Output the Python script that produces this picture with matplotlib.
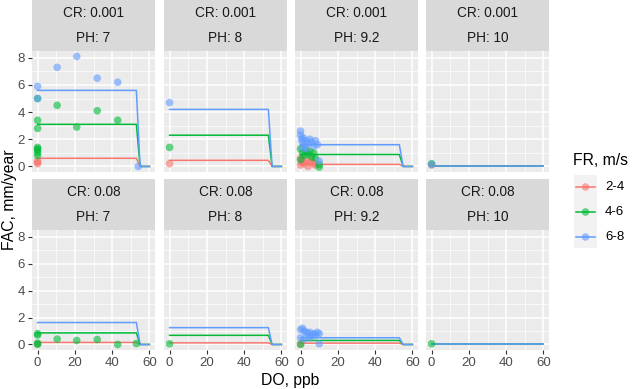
import numpy as np
import matplotlib.pyplot as plt
from matplotlib.lines import Line2D
from matplotlib.patches import Rectangle

plt.rcParams['font.family'] = ['Liberation Sans', 'DejaVu Sans']

W, H = 634, 389

cr_levels = ['0.001', '0.08']
ph_levels = ['7', '8', '9.2', '10']
fr_levels = ['2-4', '4-6', '6-8']
fr_colors = ['#F8766D', '#00BA38', '#619CFF']

# model lines: DO breakpoints and FAC level per (CR, PH) panel, one per FR group
line_do = [0, 53, 55, 60]
line_fac = {
    ('0.001', '7'): [0.6, 3.1, 5.6],
    ('0.001', '8'): [0.45, 2.3, 4.2],
    ('0.001', '9.2'): [0.15, 0.88, 1.6],
    ('0.001', '10'): [0.0, 0.0, 0.0],
    ('0.08', '7'): [0.15, 0.86, 1.63],
    ('0.08', '8'): [0.12, 0.68, 1.25],
    ('0.08', '9.2'): [0.1, 0.3, 0.5],
    ('0.08', '10'): [0.0, 0.0, 0.0],
}

# measured points: (DO, FAC) per panel and FR group
pts = {
    ('0.001', '7'): {
        '2-4': [(0, 0.4), (0, 0.3), (0, 0.2)],
        '4-6': [(0, 5.0), (0, 3.4), (0, 2.8), (0, 1.4), (0, 1.3), (0, 1.2), (0, 1.0), (0, 0.8),
                (10.5, 4.5), (21, 2.9), (32, 4.1), (43, 3.4)],
        '6-8': [(0, 5.9), (0, 5.0), (10.5, 7.3), (21, 8.1), (32, 6.5), (43, 6.2), (54, 0.0)],
    },
    ('0.001', '8'): {
        '2-4': [(0, 0.2)],
        '4-6': [(0, 1.4)],
        '6-8': [(0, 4.7)],
    },
    ('0.001', '9.2'): {
        '2-4': [(0, 0.1), (0.5, 0.3), (1, 0.5), (2, 0.2), (3, 0.4), (4, 0.0), (5, 0.3),
                (6, 0.5), (7, 0.2), (8, 0.1), (0, 0.6)],
        '4-6': [(0, 1.3), (1, 1.0), (2, 0.8), (3, 1.2), (4, 0.9), (5, 1.1), (6, 0.7),
                (7, 1.0), (8, 0.6), (10, 0.15), (10, -0.05), (0, 0.5)],
        '6-8': [(0, 2.6), (0, 2.3), (0.5, 2.0), (1, 1.8), (1.5, 2.1), (2, 1.6), (3, 1.9),
                (4, 1.7), (5, 2.0), (6, 1.8), (7, 1.5), (8, 1.9), (9, 1.6), (10, 0.4),
                (1, 1.4), (3, 1.3)],
    },
    ('0.001', '10'): {
        '2-4': [(0, 0.1)],
        '4-6': [(0, 0.2)],
        '6-8': [(0, 0.15)],
    },
    ('0.08', '7'): {
        '2-4': [(0, 0.05)],
        '4-6': [(0, 0.8), (0, 0.7), (0, 0.1), (0, 0.0), (10.5, 0.4), (21, 0.3),
                (32, 0.37), (43, 0.0), (53, 0.07)],
        '6-8': [],
    },
    ('0.08', '8'): {
        '2-4': [],
        '4-6': [(0, 0.05)],
        '6-8': [],
    },
    ('0.08', '9.2'): {
        '2-4': [(0, 0.05)],
        '4-6': [(0, 0.0)],
        '6-8': [(0, 1.1), (1, 1.2), (2, 1.0), (3, 0.9), (4, 0.8), (5, 0.9), (6, 0.7),
                (7, 0.8), (8, 0.7), (9, 0.9), (10, 0.8), (0, 0.5), (2, 0.4), (5, 0.5),
                (10, 0.05)],
    },
    ('0.08', '10'): {
        '2-4': [],
        '4-6': [(0, 0.05)],
        '6-8': [],
    },
}

fig = plt.figure(figsize=(W / 100, H / 100), dpi=100)


def box(x0, y0, x1, y1):
    # pixel box (top-left origin) -> figure fraction rect
    return [x0 / W, 1 - y1 / H, (x1 - x0) / W, (y1 - y0) / H]


col_x = [32, 164, 295, 426]
pw = 123
rows = [(0, 51, 172), (179, 230, 350)]  # strip top, panel top, panel bottom

for r, cr in enumerate(cr_levels):
    st, pt, pb = rows[r]
    half = (pt - st) / 2
    for c, ph in enumerate(ph_levels):
        x0 = col_x[c]
        for k, lab in enumerate(['CR: ' + cr, 'PH: ' + ph]):
            sax = fig.add_axes(box(x0, st + k * half, x0 + pw, st + (k + 1) * half))
            sax.set_facecolor('#D9D9D9')
            sax.set_xticks([])
            sax.set_yticks([])
            for s in sax.spines.values():
                s.set_visible(False)
            sax.text(0.5, 0.5, lab, ha='center', va='center', fontsize=9.8,
                     color='#1A1A1A', transform=sax.transAxes)

        ax = fig.add_axes(box(x0, pt, x0 + pw, pb))
        ax.set_facecolor('#EBEBEB')
        for s in ax.spines.values():
            s.set_visible(False)
        ax.set_xlim(-3, 63)
        ax.set_ylim(-0.41, 8.5)
        ax.set_xticks([0, 20, 40, 60])
        ax.set_yticks([0, 2, 4, 6, 8])
        ax.set_xticks([10, 30, 50], minor=True)
        ax.set_yticks([1, 3, 5, 7], minor=True)
        ax.grid(True, which='major', color='white', lw=1.1)
        ax.grid(True, which='minor', color='white', lw=0.5)
        ax.set_axisbelow(True)
        ax.tick_params(which='minor', length=0)
        ax.tick_params(which='major', length=3, width=0.8, color='#333333',
                       labelsize=9.5, labelcolor='#4D4D4D', pad=2)
        if c != 0:
            ax.tick_params(axis='y', left=False, labelleft=False)
        if r == 0:
            ax.tick_params(axis='x', bottom=False, labelbottom=False)

        for i, fr in enumerate(fr_levels):
            v = line_fac[(cr, ph)][i]
            ax.plot(line_do, [v, v, 0, 0], color=fr_colors[i], lw=1.1, zorder=3)
        for i, fr in enumerate(fr_levels):
            p = pts[(cr, ph)][fr]
            if p:
                xs, ys = zip(*p)
                ax.scatter(xs, ys, s=30, color=fr_colors[i], alpha=0.6,
                           edgecolors='none', zorder=4)

fig.text(10 / W, 1 - 200 / H, 'FAC, mm/year', rotation=90, ha='center', va='center',
         fontsize=11.3, color='black')
fig.text(290 / W, 1 - 380 / H, 'DO, ppb', ha='center', va='center',
         fontsize=11.3, color='black')

# legend
lax = fig.add_axes([0, 0, 1, 1])
lax.set_xlim(0, W)
lax.set_ylim(H, 0)
lax.axis('off')
lax.text(573, 160, 'FR, m/s', ha='left', va='center', fontsize=11.3)
lax.add_patch(Rectangle((574, 175), 23, 73, facecolor='#F2F2F2', edgecolor='none'))
for i, fr in enumerate(fr_levels):
    yk = 187 + 25 * i
    lax.plot([576, 595], [yk, yk], color=fr_colors[i], lw=1.1)
    lax.scatter([585.5], [yk], s=30, color=fr_colors[i], alpha=0.6, edgecolors='none')
    lax.text(605, yk, fr, ha='left', va='center', fontsize=9.5)

fig.savefig('out.png', dpi=100)
